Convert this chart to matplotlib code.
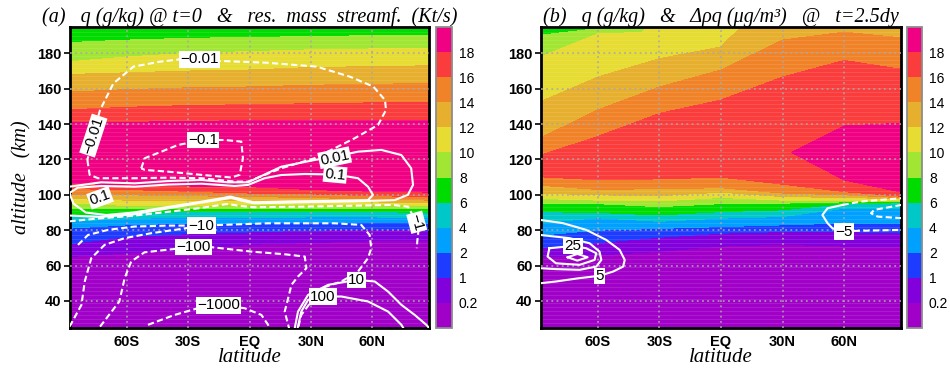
import numpy as np
import matplotlib
matplotlib.use('Agg')
import matplotlib.pyplot as plt

# ---------------------------------------------------------------------------
# Shading: q (g/kg), GrADS rainbow
# ---------------------------------------------------------------------------
Q_LEVELS = [0.2, 1, 2, 4, 6, 8, 10, 12, 14, 16, 18]
Q_LABELS = ['0.2', '1', '2', '4', '6', '8', '10', '12', '14', '16', '18']
Q_COLORS = ['#a000c8', '#8200dc', '#1e3cff', '#00a0ff', '#00c8c8', '#00dc00',
            '#a0e632', '#e6dc32', '#e6af2d', '#f08228', '#fa3c3c', '#f00082']

LAT_COLS = [-90, -60, -30, 0, 30, 60, 90]

# panel (a): q at each node (rows bottom->top) and the altitude of that node per column
qa_val = [
    [0.05] * 7,
    [0.2] * 7, [1] * 7, [2] * 7, [4] * 7, [6] * 7, [8] * 7, [10] * 7,
    [12] * 7, [14] * 7, [16] * 7, [18] * 7,
    [19] * 7,
    [18] * 7, [16] * 7, [14] * 7, [12] * 7, [10] * 7, [8] * 7,
    [6.5, 6.8, 7.0, 7.2, 7.4, 7.5, 7.5],
]
qa_alt = [
    [25, 25, 25, 25, 25, 25, 25],
    [65, 67, 69, 72, 73, 74, 74],
    [72, 76.4, 78, 79, 80, 80.5, 80],
    [81, 83, 84, 84, 84.5, 84.5, 84],
    [85, 86.5, 87.5, 87, 87.5, 87.5, 87],
    [88.7, 89.6, 90.5, 90.5, 90.5, 90.5, 90],
    [92.5, 92, 92, 92.5, 92.5, 92.5, 92],
    [95.5, 94, 94, 94.5, 94.5, 94.5, 94],
    [98, 97, 97, 97, 96.5, 96, 95.5],
    [100.5, 100, 99.5, 99, 98.5, 97.5, 97],
    [103.5, 103, 102, 101, 100.5, 99.5, 99],
    [106.6, 105.6, 105, 104.6, 103, 102, 101.5],
    [122, 122, 122, 122, 122, 122, 122],
    [140.6, 141, 141.5, 142, 142, 142, 142],
    [148, 149.5, 150.5, 151, 151.5, 152, 152],
    [158, 159.5, 160.5, 161, 162, 162.5, 163],
    [168, 169, 170, 170.6, 172, 172.5, 173],
    [175, 178, 180, 181, 182, 182.5, 183],
    [186, 187.5, 188.5, 189, 189.5, 190, 190],
    [195, 195, 195, 195, 195, 195, 195],
]

# panel (b)
qb_val = [
    [0.05] * 7,
    [0.2] * 7, [1] * 7, [2] * 7, [4] * 7, [6] * 7, [8] * 7, [10] * 7,
    [12] * 7, [14] * 7, [16] * 7,
    [16.8, 17.2, 17.3, 17.4, 17.6, 18, 18],
    [17.0, 17.5, 17.6, 17.8, 17.9, 18.6, 19.2],
    [16.8, 17.2, 17.3, 17.4, 17.6, 18, 18],
    [16, 16, 16, 16, 16, 16, 16],
    [14, 14, 14, 14, 14, 14, 14],
    [12, 12, 12, 12, 13.6, 13.8, 13.8],
    [10, 10, 11.2, 11.8, 13.3, 13.7, 13.6],
    [8, 8, 10.8, 11.6, 13.1, 13.65, 13.55],
    [7.5, 7.8, 10.5, 11.5, 13.0, 13.6, 13.5],
]
qb_alt = [
    [25, 25, 25, 25, 25, 25, 25],
    [65, 66, 68, 71, 72, 71, 71],
    [70, 73, 76, 78.3, 79.2, 79.2, 78.3],
    [77, 80, 81, 82, 83, 84, 84],
    [84, 87, 85, 86.8, 87.7, 92.4, 92.4],
    [90.5, 90, 88.6, 90.5, 91.5, 95, 95.5],
    [95.3, 95, 93.3, 95, 95.3, 96, 96.2],
    [98, 97, 96.5, 98.5, 97, 97, 97],
    [101, 100, 99.5, 101.5, 99, 98.5, 97.7],
    [105.6, 103, 103.5, 104, 101, 100, 98.3],
    [110.3, 108.5, 109, 110, 106, 101.8, 99],
    [113, 113, 117, 120, 112, 108.4, 101],
    [116, 120, 125, 130, 124, 124, 120],
    [119, 127, 135, 142, 140, 139, 140.6],
    [121.6, 133, 146, 153.6, 166.6, 176, 170.6],
    [131, 148, 161, 170.6, 187.5, 192, 188.5],
    [151.7, 166.6, 177, 183.6, 190, 193, 191],
    [177, 191, 186, 188, 192, 194, 193],
    [190, 194, 191, 192, 194, 194.5, 194],
    [195, 195, 195, 195, 195, 195, 195],
]

# ---------------------------------------------------------------------------
# Panel (a) residual mass streamfunction (Kt/s), (lat, alt) along each contour
# ---------------------------------------------------------------------------
psi_m0p01 = [(-79.2, 119.7), (-78.1, 111.3), (-74.0, 109.4), (-56.1, 109.4), (-39.8, 109.7),
             (-23.5, 109.4), (-7.2, 107.5), (-0.7, 107.5), (15.5, 115.0), (31.8, 120.7),
             (51.4, 132.0), (62.8, 139.5), (66.7, 148.0), (66.2, 153.6), (60.5, 161.2),
             (49.1, 166.8), (32.8, 172.5), (8.4, 174.7), (-14.4, 175.7), (-34.0, 176.6),
             (-43.7, 175.3), (-56.7, 172.5), (-66.5, 163.0), (-73.0, 148.0), (-76.3, 134.8),
             (-79.2, 119.7)]
psi_m0p1 = [(-52.9, 115.0), (-51.2, 120.7), (-43.1, 124.4), (-34.9, 128.2), (-22.6, 131.0),
            (-12.1, 131.0), (-4.0, 130.1), (-3.2, 120.7), (-4.8, 111.3), (-8.9, 109.8),
            (-23.5, 111.3), (-39.8, 113.1), (-51.2, 114.1), (-52.9, 115.0)]
psi_p0p01 = [(-88, 104.6), (-72.4, 107.1), (-56.1, 106.5), (-39.8, 107.8), (-23.5, 108.4),
             (-10.5, 107.1), (-0.7, 107.1), (15.5, 115.9), (31.8, 119.7), (41.6, 121.6),
             (53.0, 124.4), (64.4, 125.4), (74.2, 122.5), (79.0, 115.0), (79.9, 105.6),
             (77.4, 100.0), (70.9, 97.0), (50, 96.3), (25, 95.8), (2, 95.2), (-5, 97),
             (-9, 98.3), (-14, 97.3), (-24.2, 95.5), (-40.5, 92.2), (-56.7, 89),
             (-73, 87.5), (-88, 88.3)]
psi_p0p1 = [(-88, 101), (-84, 104), (-72.4, 105), (-56.1, 104.6), (-39.8, 105.8),
            (-23.5, 106.3), (-7.2, 105.0), (-0.7, 105.6), (7.4, 109.4), (15.5, 111.2),
            (27, 111.8), (41.6, 111.5), (53, 109.4), (57.9, 104.6), (60.3, 100),
            (57.9, 97), (40, 96.6), (20, 96.3), (2, 95.8), (-5, 97.8), (-9.5, 99),
            (-14, 98), (-24.2, 96), (-40.5, 93), (-56.7, 90), (-70, 88.6), (-80, 90),
            (-86, 95), (-88, 101)]
psi_m1 = [(-88, 85), (-75, 86.5), (-56.7, 88.2), (-40.5, 90.3), (-24.2, 92.5), (-11, 94.8),
          (-5, 93.8), (2, 93), (25, 93.3), (57, 94), (70, 94.3), (77.4, 93.3), (80, 88),
          (81.7, 84.5), (82.5, 79.2), (82, 74), (81.7, 69.8)]
psi_m10 = [(-83.8, 71.7), (-78.9, 77.3), (-69.1, 80.2), (-56.1, 82.1), (-39.8, 82.6),
           (-23.5, 82.6), (9.1, 83.9), (41.6, 83.9), (54.6, 83.0), (58.7, 77.3), (59.5, 69.8),
           (57.9, 64.2), (53.0, 56.6), (44.9, 51.0), (35.1, 47.2), (30.2, 39.7), (25.3, 32.1),
           (23.7, 24.6)]
psi_m10_b = [(-87.9, 25.5), (-82.1, 37.8), (-80.5, 51.0), (-77.3, 64.2), (-70.8, 71.7),
             (-61.0, 75.5), (-48.0, 78.3), (-34.0, 80.6), (-23.5, 82.6)]
psi_m100 = [(-73.0, 25.5), (-63.6, 39.7), (-61.0, 52.9), (-57.8, 62.3), (-51.3, 67.5),
            (-36.6, 69.4), (-27.6, 70.4), (-18.6, 70.4), (0.9, 67.9), (17.2, 66.4),
            (27.0, 65.1), (27.8, 58.5), (23.7, 53.8), (20.5, 49.1), (18.9, 41.6),
            (17.2, 34.0), (18.9, 26.5), (19.3, 24.6)]
psi_m1000 = [(-49.6, 26.5), (-36.6, 32.1), (-25.2, 35.9), (-15.4, 37.8), (-2.4, 35.9),
             (5.8, 32.1), (9.1, 26.5), (9.5, 24.6)]
psi_p10 = [(22.1, 24.6), (23.7, 34.0), (28.6, 43.4), (38.4, 49.1), (52.2, 51.9),
           (61.2, 51.0), (67.7, 45.3), (74.2, 37.8), (80.7, 32.1), (86.4, 26.5), (87.5, 25)]
psi_p100 = [(23.5, 24.6), (25.3, 34.0), (28.6, 40.6), (35.9, 42.5), (44.9, 42.5),
            (57.9, 39.7), (67.7, 34.0), (74.2, 26.5), (75.2, 24.6)]

# (text, lat, alt, rotation)
psi_labels = [('\u22120.01', -24.2, 176.6, 0), ('\u22120.01', -76.3, 133.5, 72),
              ('\u22120.1', -22.6, 131.0, 0), ('0.01', 41.6, 121.0, 12),
              ('0.1', 41.8, 111.5, -5), ('0.1', -73.0, 98.3, 20),
              ('\u221210', -23.4, 82.6, 0), ('\u2212100', -27.4, 70.4, 0),
              ('\u22121000', -15.2, 37.5, 0), ('10', 52.2, 51.9, 0),
              ('100', 35.9, 42.5, 0), ('\u22121', 81.7, 84.5, -75)]

# ---------------------------------------------------------------------------
# Panel (b) change in rho*q (ug/m3)
# ---------------------------------------------------------------------------
drq_p5 = [(-88, 85.8), (-77.1, 84.0), (-65.7, 80.2), (-55.9, 74.5), (-49.4, 68.9), (-46.9, 63.2),
          (-47.7, 59.4), (-52.6, 56.6), (-59.2, 54.2), (-68.9, 52.9), (-80.4, 51.0), (-88, 50.0)]
drq_p15 = [(-88, 77.3), (-73.8, 75.5), (-64.0, 72.6), (-59.2, 67.9), (-58.3, 63.2),
           (-60.8, 59.4), (-68.9, 57.6), (-80.4, 58.0), (-88, 58.5)]
drq_p25 = [(-83.6, 69.8), (-72.2, 71.1), (-65.7, 69.8), (-60.8, 67.0), (-61.6, 63.2),
           (-68.9, 60.4), (-80.4, 61.3), (-84.5, 65.1), (-83.6, 69.8)]
drq_p35 = [(-74.7, 64.7), (-70, 66.6), (-65, 64.7), (-70, 62.8), (-74.7, 64.7)]
drq_m5_solid = [(59.2, 94.3), (51.9, 92.4), (49.4, 88.6), (51.9, 84.0), (54.3, 81.1), (60.0, 79.2)]
drq_m5_low = [(60.0, 79.2), (64.9, 79.6), (88, 80.2)]
drq_m5_top = [(59.2, 94.3), (68.2, 96.2), (88, 98.1)]
drq_m5_inner = [(88, 94.3), (74.7, 91.5), (73.1, 89.6), (76.3, 87.7), (88, 86.8)]

drq_labels = [('25', -72.2, 71.1, 0), ('5', -59.2, 54.2, 0), ('\u22125', 60.0, 79.2, 0)]

LAT_TICKS = [-60, -30, 0, 30, 60]
LAT_TICKLABELS = ['60S', '30S', 'EQ', '30N', '60N']
ALT_TICKS = [40, 60, 80, 100, 120, 140, 160, 180]

SERIF = 'Liberation Serif'
SANS = 'Liberation Sans'
W, H = 950, 371


def shade(ax, cax, val, alt):
    z = np.array(val, dtype=float)
    y = np.array(alt, dtype=float)
    x = np.tile(LAT_COLS, (z.shape[0], 1))
    cf = ax.contourf(x, y, z, levels=[0] + Q_LEVELS + [25], colors=Q_COLORS, zorder=0)
    # faint horizontal streaks of the original rendering
    ax.hlines(np.arange(25.5, 195, 2.25), -90, 90, colors='white', alpha=0.13,
              linewidth=0.6, zorder=0.5)
    cb = ax.figure.colorbar(cf, cax=cax, ticks=Q_LEVELS, spacing='uniform')
    cb.set_ticklabels(Q_LABELS)
    cb.outline.set_edgecolor('#8c8c8c')
    cb.outline.set_linewidth(1.3)
    cax.tick_params(length=0, pad=5, labelsize=10)
    for t in cax.get_yticklabels():
        t.set_fontfamily(SANS)


def style_axes(ax, title, ylabel=True):
    ax.set_xlim(-87.7, 87.7)
    ax.set_ylim(24.7, 194.9)
    ax.set_xticks(LAT_TICKS)
    ax.set_xticklabels(LAT_TICKLABELS)
    ax.set_yticks(ALT_TICKS)
    ax.tick_params(axis='y', length=4, width=1.2, pad=2, labelsize=10.5)
    ax.tick_params(axis='x', length=0, pad=5, labelsize=10.5)
    for t in ax.get_xticklabels() + ax.get_yticklabels():
        t.set_fontfamily(SANS)
        t.set_fontweight('bold')
    ax.grid(True, color='#a8a8a8', linestyle=(0, (1.2, 2.2)), linewidth=1.1)
    ax.set_axisbelow(False)
    for s in ax.spines.values():
        s.set_linewidth(2.0)
    ax.set_title(title, fontfamily=SERIF, style='italic', fontsize=14.5, pad=3)
    ax.set_xlabel('latitude', fontfamily=SERIF, style='italic', fontsize=15, labelpad=-1)
    if ylabel:
        ax.set_ylabel('altitude   (km)', fontfamily=SERIF, style='italic', fontsize=14.5,
                      labelpad=4)


def draw(ax, pts, dashed=False):
    lat, alt = zip(*pts)
    ax.plot(lat, alt, color='white', linewidth=1.5, zorder=3,
            linestyle=(0, (3, 1.6)) if dashed else '-')


def label(ax, items):
    for text, lat, alt, rot in items:
        ax.text(lat, alt, text, rotation=rot, ha='center', va='center', fontsize=11,
                fontfamily=SANS, color='black', zorder=5, rotation_mode='anchor',
                bbox=dict(boxstyle='square,pad=0.08', fc='white', ec='none'))


fig = plt.figure(figsize=(W / 100, H / 100), dpi=100)
ax_a = fig.add_axes([70 / W, 43 / H, 359 / W, 301 / H])
cax_a = fig.add_axes([436 / W, 43 / H, 16 / W, 301 / H])
ax_b = fig.add_axes([541 / W, 43 / H, 360 / W, 301 / H])
cax_b = fig.add_axes([907 / W, 43 / H, 15 / W, 301 / H])

# panel (a)
shade(ax_a, cax_a, qa_val, qa_alt)
for pts in [psi_m0p01, psi_m0p1, psi_m1, psi_m10, psi_m10_b, psi_m100, psi_m1000]:
    draw(ax_a, pts, dashed=True)
for pts in [psi_p0p01, psi_p0p1, psi_p10, psi_p100]:
    draw(ax_a, pts)
label(ax_a, psi_labels)
style_axes(ax_a, '(a)   q (g/kg) @ t=0   &   res.  mass  streamf.  (Kt/s)')

# panel (b)
shade(ax_b, cax_b, qb_val, qb_alt)
for pts in [drq_p5, drq_p15, drq_p25, drq_p35, drq_m5_solid]:
    draw(ax_b, pts)
for pts in [drq_m5_low, drq_m5_top, drq_m5_inner]:
    draw(ax_b, pts, dashed=True)
label(ax_b, drq_labels)
style_axes(ax_b, '(b)   q (g/kg)   &   \u0394\u03c1q (\u03bcg/m\u00b3)   @   t=2.5dy', ylabel=False)

fig.savefig('out.png', dpi=100)
